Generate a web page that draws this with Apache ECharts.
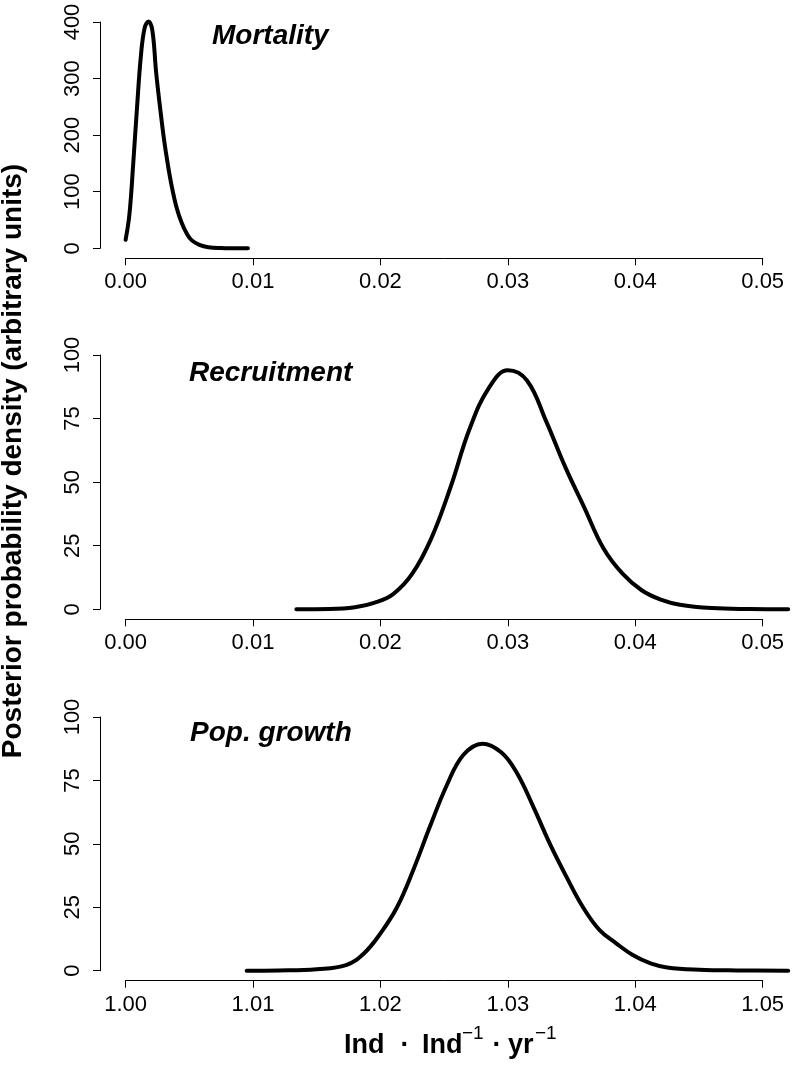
<!DOCTYPE html>
<html>
<head>
<meta charset="utf-8">
<script src="https://cdn.jsdelivr.net/npm/echarts@6/dist/echarts.min.js"></script>
<style>
html,body{margin:0;padding:0;background:#fff;}
#c{width:796px;height:1069px;}
</style>
</head>
<body>
<div id="c"></div>
<script>
// ---- data ----
const panelTitles = ['Mortality', 'Recruitment', 'Pop. growth'];
const yAxisTitle = 'Posterior probability density (arbitrary units)';

const mortalityX = [0, 0.0003, 0.0006, 0.0009, 0.0012, 0.0015, 0.0018, 0.0021, 0.0024, 0.0027, 0.003, 0.0033, 0.0036, 0.004, 0.0044, 0.0048, 0.0052, 0.0058, 0.0065, 0.0075, 0.0085, 0.0096];
const mortalityY = [15, 60, 150, 250, 340, 390, 401, 385, 310, 250, 195, 150, 112, 72, 45, 26, 14, 6, 2, 0.5, 0.1, 0];

const recruitX = [0.0134, 0.016, 0.018, 0.0195, 0.021, 0.0225, 0.024, 0.0255, 0.027, 0.0285, 0.030, 0.0315, 0.033, 0.0345, 0.036, 0.0375, 0.039, 0.0405, 0.042, 0.0435, 0.046, 0.049, 0.052];
const recruitY = [0, 0.1, 0.8, 2.5, 6, 14, 28, 48, 71, 87, 94, 90, 74, 56, 40, 24, 14, 7.5, 3.8, 1.8, 0.5, 0.1, 0];

const growthX = [1.0095, 1.012, 1.015, 1.0173, 1.0187, 1.020, 1.0213, 1.0226, 1.0239, 1.0252, 1.0265, 1.0280, 1.0295, 1.0307, 1.0320, 1.0333, 1.0346, 1.0359, 1.0372, 1.0385, 1.0398, 1.0412, 1.0425, 1.045, 1.048, 1.052];
const growthY = [0, 0.1, 0.6, 2.2, 6.8, 14.7, 25, 40, 57, 73, 85, 89.5, 86, 78, 64.6, 50, 37, 25, 16, 10.8, 6.2, 2.9, 1.3, 0.4, 0.1, 0];

const xRanges = [[0, 0.05], [0, 0.05], [1.00, 1.05]];   // labelled tick range
const xDataMax = [0.052, 0.052, 1.052];                  // data extends past last tick
const xInterval = 0.01;
const yRanges = [[0, 400], [0, 100], [0, 100]];
const yIntervals = [100, 25, 25];

// ---- chart ----
const FONT = '"Liberation Sans", Arial, Helvetica, sans-serif';
const chart = echarts.init(document.getElementById('c'), null, {renderer: 'canvas'});

const LEFT = 125.6, AXW = 637.1;
const pxPerUnit = AXW / 0.05;
const gridTops = [22, 355, 717];
const gridHeights = [226.3, 254.3, 253.7];
const series = [[mortalityX, mortalityY], [recruitX, recruitY], [growthX, growthY]];

const grids = [], xAxes = [], yAxes = [], ser = [];
for (let i = 0; i < 3; i++) {
  // axis grid (visible axes, tick range only)
  grids.push({left: LEFT, width: AXW, top: gridTops[i], height: gridHeights[i], containLabel: false});
  xAxes.push({
    type: 'value', gridIndex: 2 * i, min: xRanges[i][0], max: xRanges[i][1], interval: xInterval,
    offset: 10,
    axisLine: {show: true, onZero: false, lineStyle: {color: '#000', width: 1}},
    axisTick: {show: true, length: 7, lineStyle: {color: '#000', width: 1}},
    axisLabel: {color: '#000', fontSize: 22, fontFamily: FONT, margin: 13,
      formatter: v => v.toFixed(2)},
    splitLine: {show: false}
  });
  yAxes.push({
    type: 'value', gridIndex: 2 * i, min: yRanges[i][0], max: yRanges[i][1], interval: yIntervals[i],
    offset: 25.6,
    axisLine: {show: true, onZero: false, lineStyle: {color: '#000', width: 1}},
    axisTick: {show: true, length: 7, lineStyle: {color: '#000', width: 1}},
    axisLabel: {color: '#000', fontSize: 22, fontFamily: FONT, rotate: 90, margin: 16},
    splitLine: {show: false}
  });
  // data grid (same scale, extends to the last data point)
  const dw = (xDataMax[i] - xRanges[i][0]) * pxPerUnit;
  grids.push({left: LEFT, width: dw, top: gridTops[i], height: gridHeights[i], containLabel: false});
  xAxes.push({type: 'value', gridIndex: 2 * i + 1, min: xRanges[i][0], max: xDataMax[i], show: false});
  yAxes.push({type: 'value', gridIndex: 2 * i + 1, min: yRanges[i][0], max: yRanges[i][1], show: false});
  const xs = series[i][0], ys = series[i][1];
  ser.push({
    type: 'line', xAxisIndex: 2 * i + 1, yAxisIndex: 2 * i + 1,
    data: xs.map((x, k) => [x, ys[k]]),
    showSymbol: false, symbol: 'none', smooth: 0.4,
    clip: false,
    lineStyle: {color: '#000', width: 4, cap: 'round', join: 'round'},
    silent: true, animation: false
  });
}

const titleY = [36, 373, 733];
const titleX = [212, 189, 190];
const graphics = [];
for (let i = 0; i < 3; i++) {
  graphics.push({type: 'text', x: titleX[i], y: titleY[i],
    style: {text: panelTitles[i], font: 'italic bold 28px ' + FONT, fill: '#000',
      textAlign: 'left', textVerticalAlign: 'middle'}});
}
graphics.push({type: 'text', x: 13, y: 461, rotation: Math.PI / 2,
  style: {text: yAxisTitle, font: 'bold 28px ' + FONT, fill: '#000',
    textAlign: 'center', textVerticalAlign: 'middle'}});

// x-axis title: Ind · Ind^-1 · yr^-1
const xt = [
  {t: 'Ind', x: 344, y: 1046, f: 'bold 27px ' + FONT, a: 'left'},
  {t: '\u00B7', x: 405, y: 1046, f: 'bold 27px ' + FONT, a: 'center'},
  {t: 'Ind', x: 422, y: 1046, f: 'bold 27px ' + FONT, a: 'left'},
  {t: '\u22121', x: 462, y: 1034, f: '19px ' + FONT, a: 'left'},
  {t: '\u00B7', x: 497, y: 1046, f: 'bold 27px ' + FONT, a: 'center'},
  {t: 'yr', x: 508, y: 1046, f: 'bold 27px ' + FONT, a: 'left'},
  {t: '\u22121', x: 535, y: 1034, f: '19px ' + FONT, a: 'left'}
];
xt.forEach(p => graphics.push({type: 'text', x: p.x, y: p.y,
  style: {text: p.t, font: p.f, fill: '#000', textAlign: p.a, textVerticalAlign: 'middle'}}));

chart.setOption({
  animation: false,
  backgroundColor: '#fff',
  grid: grids, xAxis: xAxes, yAxis: yAxes, series: ser,
  graphic: graphics
});
</script>
</body>
</html>
